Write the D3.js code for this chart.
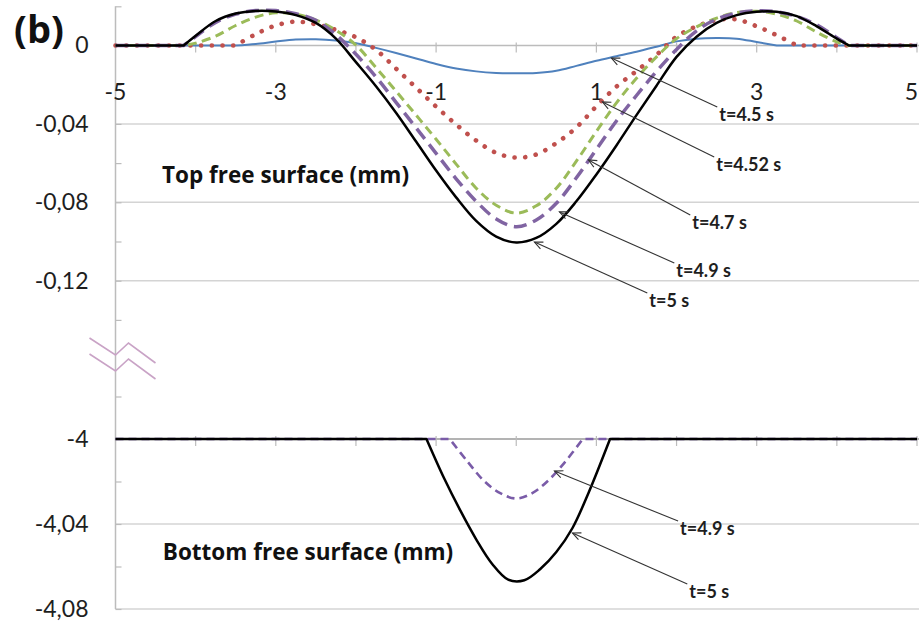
<!DOCTYPE html>
<html>
<head>
<meta charset="utf-8">
<script src="https://cdn.jsdelivr.net/npm/d3@7"></script>
<style>
  body { margin: 0; background: #fff; }
  svg { display: block; font-family: Lato, "Open Sans", sans-serif; }
</style>
</head>
<body>
<svg id="chart" width="919" height="622"></svg>
<script>
// ---------------- DATA ----------------
// position along the free surface (x) shared by the top-surface series
const xValues = [-5, -4.5, -4.15, -4, -3.75, -3.5, -3.25, -3, -2.75, -2.5, -2.25, -2, -1.75, -1.5, -1.25, -1, -0.75, -0.5, -0.25, 0,
                 0.25, 0.5, 0.75, 1, 1.25, 1.5, 1.75, 2, 2.25, 2.5, 2.75, 3, 3.25, 3.5, 3.75, 4, 4.15, 4.5, 5];

// Top free surface elevation (mm)
const topT450 = [0, 0, 0, 0, 0, 0, 0.0008, 0.002, 0.003, 0.0032, 0.0026, 0.0012, -0.0012, -0.0038, -0.0066, -0.0094, -0.0117, -0.0132, -0.014, -0.0142,
                 -0.014, -0.0129, -0.0104, -0.0078, -0.0055, -0.0032, -0.0006, 0.0021, 0.0035, 0.0038, 0.0035, 0.0018, 0, 0, 0, 0, 0, 0, 0];
const topT452 = [0, 0, 0, 0, 0, 0, 0.0058, 0.0102, 0.0122, 0.0108, 0.008, 0.0042, -0.0022, -0.0118, -0.0215, -0.0312, -0.0403, -0.0485, -0.0548, -0.0572,
                 -0.0556, -0.0498, -0.0418, -0.031, -0.021, -0.013, -0.0048, 0.0045, 0.0098, 0.013, 0.0133, 0.0098, 0.0052, 0, 0, 0, 0, 0, 0];
const topT470 = [0, 0, 0, 0.0012, 0.0048, 0.0102, 0.0145, 0.0167, 0.016, 0.013, 0.0078, 0.0002, -0.0113, -0.0233, -0.0355, -0.0478, -0.0605, -0.0728, -0.0815, -0.0855,
                 -0.0818, -0.0728, -0.059, -0.0438, -0.0293, -0.0167, -0.0058, 0.0035, 0.0095, 0.014, 0.0168, 0.0175, 0.016, 0.0125, 0.0068, 0.0018, 0, 0, 0];
const topT490 = [0, 0, 0, 0.0045, 0.0118, 0.016, 0.0178, 0.0178, 0.0162, 0.0128, 0.0055, -0.0045, -0.016, -0.029, -0.042, -0.055, -0.068, -0.0795, -0.0885, -0.0925,
                 -0.089, -0.0805, -0.0675, -0.053, -0.0385, -0.0255, -0.0132, -0.002, 0.0075, 0.0135, 0.0165, 0.0177, 0.0172, 0.0148, 0.0105, 0.004, 0, 0, 0];
const topT500 = [0, 0, 0, 0.005, 0.0125, 0.0163, 0.0176, 0.0173, 0.0155, 0.0115, 0.0035, -0.0085, -0.0208, -0.0343, -0.049, -0.0638, -0.0775, -0.0895, -0.0975, -0.1005,
                 -0.0982, -0.091, -0.0795, -0.0658, -0.051, -0.0355, -0.0205, -0.0058, 0.0045, 0.0115, 0.0155, 0.0172, 0.0172, 0.015, 0.0098, 0.0035, 0, 0, 0];

// Bottom free surface elevation (mm)
const xBottomT490 = [-5, -0.83, -0.6, -0.4, -0.2, 0, 0.2, 0.4, 0.6, 0.83, 5];
const bottomT490 = [-4, -4, -4.011, -4.0198, -4.0255, -4.028, -4.0255, -4.0195, -4.0112, -4, -4];
const xBottomT500 = [-5, -1.12, -0.9, -0.7, -0.5, -0.3, -0.1, 0.1, 0.3, 0.5, 0.7, 0.9, 1.17, 5];
const bottomT500 = [-4, -4, -4.0185, -4.0335, -4.0472, -4.0588, -4.0662, -4.0665, -4.0612, -4.0532, -4.042, -4.0255, -4, -4];

// Axis ticks
const xTickValues = [-5, -4, -3, -2, -1, 0, 1, 2, 3, 4, 5];
const xLabelValues = [-5, -3, -1, 1, 3, 5];
const xLabelTexts = ["-5", "-3", "-1", "1", "3", "5"];
const topTickValues = [0.02, 0, -0.02, -0.04, -0.06, -0.08, -0.1, -0.12, -0.14];
const topLabelValues = [0, -0.04, -0.08, -0.12];
const topLabelTexts = ["0", "-0,04", "-0,08", "-0,12"];
const bottomTickValues = [-3.98, -4, -4.02, -4.04, -4.06, -4.08];
const bottomLabelValues = [-4, -4.04, -4.08];
const bottomLabelTexts = ["-4", "-4,04", "-4,08"];

// Annotations: label, arrow tip (data), label anchor (data)
const topAnnotations = [
  { label: "t=4.5 s",  tipX: 1.187, tipY: -0.0064, textX: 2.533, textY: -0.0385 },
  { label: "t=4.52 s", tipX: 1.075, tipY: -0.0288, textX: 2.495, textY: -0.064 },
  { label: "t=4.7 s",  tipX: 0.900, tipY: -0.0584, textX: 2.196, textY: -0.0936 },
  { label: "t=4.9 s",  tipX: 0.539, tipY: -0.0849, textX: 1.997, textY: -0.1181 },
  { label: "t=5 s",    tipX: 0.227, tipY: -0.1003, textX: 1.660, textY: -0.1334 }
];
const bottomAnnotations = [
  { label: "t=4.9 s", tipX: 0.477, tipY: -4.0151, textX: 2.044, textY: -4.0452 },
  { label: "t=5 s",   tipX: 0.701, tipY: -4.0442, textX: 2.159, textY: -4.0748 }
];

// ---------------- CHART ----------------
const svg = d3.select("#chart");
const x = d3.scaleLinear().domain([-5, 5]).range([115.5, 917]);
const yTop = d3.scaleLinear().domain([0.02, -0.16]).range([6.3, 359.1]);
const yBot = d3.scaleLinear().domain([-3.98, -4.08]).range([396.5, 609]);

const gridColor = "#d4d4d4";
const axisColor = "#bcbcbc";
const labelFont = "Lato, 'Open Sans', sans-serif";
const boldFont = "'Open Sans', Lato, sans-serif";

// gridlines
const grid = svg.append("g");
[[yTop, [-0.04, -0.08, -0.12]], [yBot, [-4.04, -4.08]]].forEach(([ys, vals]) => {
  grid.selectAll(null).data(vals).enter().append("line")
    .attr("x1", x(-5)).attr("x2", 919)
    .attr("y1", d => ys(d)).attr("y2", d => ys(d))
    .attr("stroke", gridColor).attr("stroke-width", 1.5);
});

// horizontal axis lines (y=0 and y=-4)
grid.append("line").attr("x1", x(-5)).attr("x2", 919).attr("y1", yTop(0)).attr("y2", yTop(0))
  .attr("stroke", axisColor).attr("stroke-width", 1.5);
grid.append("line").attr("x1", x(-5)).attr("x2", 919).attr("y1", yBot(-4)).attr("y2", yBot(-4))
  .attr("stroke", "#9a9a9a").attr("stroke-width", 1.5);

// vertical axis line
grid.append("line").attr("x1", x(-5)).attr("x2", x(-5)).attr("y1", yTop(0.02)).attr("y2", yBot(-4.08))
  .attr("stroke", axisColor).attr("stroke-width", 1.5);

// x ticks on both horizontal axes
[yTop(0), yBot(-4)].forEach(yy => {
  grid.selectAll(null).data(xTickValues.slice(1)).enter().append("line")
    .attr("x1", d => x(d)).attr("x2", d => x(d))
    .attr("y1", yy - 3).attr("y2", yy + 7)
    .attr("stroke", axisColor).attr("stroke-width", 1.2);
});

// y axes via d3 axes (ticks pointing inward)
function yAxis(scale, tickVals, labelVals, labelTexts) {
  const g = svg.append("g").attr("transform", `translate(${x(-5)},0)`);
  g.call(d3.axisLeft(scale).tickValues(tickVals).tickSizeInner(-6).tickSizeOuter(0).tickFormat(""));
  g.select(".domain").remove();
  g.selectAll(".tick line").attr("stroke", axisColor).attr("stroke-width", 1.2);
  const gl = svg.append("g").attr("transform", `translate(${x(-5)},0)`);
  gl.call(d3.axisLeft(scale).tickValues(labelVals).tickSize(0).tickPadding(27)
    .tickFormat((d, i) => labelTexts[i]));
  gl.select(".domain").remove();
  gl.selectAll(".tick line").remove();
  gl.selectAll("text").attr("font-size", 23).attr("fill", "#1e1e1e")
    .attr("font-family", labelFont);
}
yAxis(yTop, topTickValues, topLabelValues, topLabelTexts);
yAxis(yBot, bottomTickValues, bottomLabelValues, bottomLabelTexts);

// x tick labels below the zero line
const xl = svg.append("g").selectAll("text").data(xLabelValues).enter().append("text")
  .attr("x", d => x(d)).attr("y", yTop(0) + 54)
  .attr("text-anchor", "middle").attr("font-size", 23).attr("fill", "#1e1e1e")
  .attr("font-family", labelFont)
  .text((d, i) => xLabelTexts[i]);
xl.each(function () {
  const w = this.getComputedTextLength();
  const cx = +this.getAttribute("x");
  if (cx + w / 2 > 918) this.setAttribute("x", 918 - w / 2);
});

// axis break symbol
const bx = x(-5), by = 358;
const brk = svg.append("g").attr("fill", "none").attr("stroke", "#c9a3c6").attr("stroke-width", 1.6);
[0, 16].forEach(off => {
  brk.append("polyline").attr("points",
    [[bx - 26, by - 20 + off], [bx, by - 3 + off], [bx + 13, by - 15 + off], [bx + 40, by + 5 + off]].map(p => p.join(",")).join(" "));
});

// series path builder: straight baseline, smooth bump
function seriesPath(xs, ys, base, yScale) {
  const pts = xs.map((v, i) => [v, ys[i]]);
  const n = pts.length;
  const first = pts.findIndex(p => p[1] !== base);
  let last = n - 1;
  while (last >= 0 && pts[last][1] === base) last--;
  const lin = d3.line().x(p => x(p[0])).y(p => yScale(p[1]));
  if (first < 0) return lin(pts);
  const smooth = d3.line().x(p => x(p[0])).y(p => yScale(p[1])).curve(d3.curveCatmullRom.alpha(0.5));
  const a = Math.max(first - 1, 0), b = Math.min(last + 1, n - 1);
  let d = smooth(pts.slice(a, b + 1));
  if (a > 0) d = lin(pts.slice(0, a + 1)) + d.replace(/^M[^A-Za-z]*/, "");
  if (b < n - 1) d += lin(pts.slice(b)).replace(/^M[^A-Za-z]*/, "");
  return d;
}

const topSeries = [
  { y: topT450, color: "#4F81BD", width: 2, dash: null, cap: "butt" },
  { y: topT452, color: "#C0504D", width: 4.6, dash: "0.1 10.6", cap: "round" },
  { y: topT470, color: "#9BBB59", width: 3, dash: "9 5.5", cap: "butt" },
  { y: topT490, color: "#8064A2", width: 3.5, dash: "13 7", cap: "butt" },
  { y: topT500, color: "#000000", width: 2.5, dash: null, cap: "butt" }
];
const bottomSeries = [
  { xs: xBottomT490, y: bottomT490, color: "#7a5ca8", width: 2.6, dash: "8 5", cap: "butt" },
  { xs: xBottomT500, y: bottomT500, color: "#000000", width: 2.5, dash: null, cap: "butt" }
];

const lines = svg.append("g").attr("fill", "none");
topSeries.forEach(s => {
  lines.append("path").attr("d", seriesPath(xValues, s.y, 0, yTop))
    .attr("stroke", s.color).attr("stroke-width", s.width)
    .attr("stroke-dasharray", s.dash).attr("stroke-linecap", s.cap).attr("stroke-linejoin", "round");
});
bottomSeries.forEach(s => {
  lines.append("path").attr("d", seriesPath(s.xs, s.y, -4, yBot))
    .attr("stroke", s.color).attr("stroke-width", s.width)
    .attr("stroke-dasharray", s.dash).attr("stroke-linecap", s.cap).attr("stroke-linejoin", "round");
});

// annotations
function annotate(list, yScale) {
  const g = svg.append("g");
  list.forEach(a => {
    const tx = x(a.tipX), ty = yScale(a.tipY);
    const lx = x(a.textX) - 2, ly = yScale(a.textY) - 14;
    g.append("line").attr("x1", lx).attr("y1", ly).attr("x2", tx).attr("y2", ty)
      .attr("stroke", "#333").attr("stroke-width", 1.1);
    const ang = Math.atan2(ly - ty, lx - tx), L = 9, w = 0.42;
    g.append("path")
      .attr("d", `M${tx + L * Math.cos(ang + w)},${ty + L * Math.sin(ang + w)} L${tx},${ty} L${tx + L * Math.cos(ang - w)},${ty + L * Math.sin(ang - w)}`)
      .attr("fill", "none").attr("stroke", "#333").attr("stroke-width", 1.1);
    g.append("text").attr("x", x(a.textX)).attr("y", yScale(a.textY))
      .attr("font-size", 18).attr("font-weight", "bold").attr("fill", "#1e1e1e")
      .attr("font-family", labelFont).text(a.label);
  });
}
annotate(topAnnotations, yTop);
annotate(bottomAnnotations, yBot);

// titles
svg.append("text").attr("x", x(-4.42)).attr("y", yTop(-0.0702))
  .attr("font-size", 22.5).attr("font-weight", "bold").attr("fill", "#111")
  .attr("font-family", boldFont).text("Top free surface (mm)");
svg.append("text").attr("x", x(-4.41)).attr("y", yBot(-4.0569))
  .attr("font-size", 22.5).attr("font-weight", "bold").attr("fill", "#111")
  .attr("font-family", boldFont).text("Bottom free surface (mm)");
svg.append("text").attr("x", 14).attr("y", 43)
  .attr("font-size", 38).attr("font-weight", "bold").attr("fill", "#111")
  .attr("font-family", boldFont).text("(b)");
</script>
</body>
</html>
